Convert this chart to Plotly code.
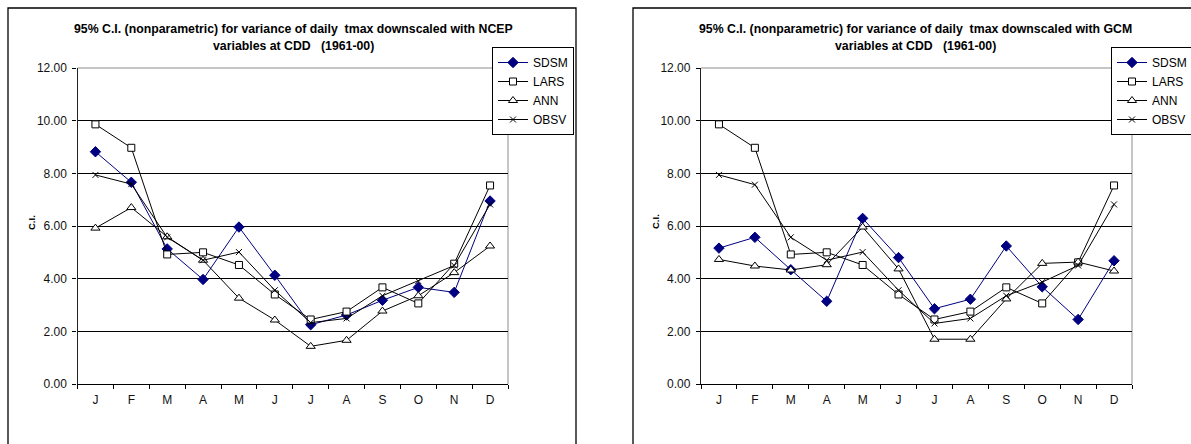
import plotly.graph_objects as go

# ---------------- data ----------------
MONTHS = ["Jan", "Feb", "Mar", "Apr", "May", "Jun", "Jul", "Aug", "Sep", "Oct", "Nov", "Dec"]
MONTH_LABELS = ["J", "F", "M", "A", "M", "J", "J", "A", "S", "O", "N", "D"]
SERIES = ["SDSM", "LARS", "ANN", "OBSV"]
Y_TICKS = [0, 2, 4, 6, 8, 10, 12]

# NCEP (left chart)
ncep_sdsm = [8.82, 7.66, 5.13, 3.97, 5.96, 4.13, 2.25, 2.62, 3.18, 3.67, 3.48, 6.95]
ncep_lars = [9.86, 8.97, 4.92, 5.00, 4.52, 3.40, 2.45, 2.75, 3.67, 3.06, 4.57, 7.54]
ncep_ann = [5.92, 6.70, 5.59, 4.70, 3.26, 2.43, 1.43, 1.66, 2.77, 3.35, 4.23, 5.24]
ncep_obsv = [7.94, 7.59, 5.57, 4.70, 5.01, 3.56, 2.33, 2.49, 3.35, 3.91, 4.50, 6.82]

# GCM (right chart)
gcm_sdsm = [5.16, 5.57, 4.34, 3.14, 6.29, 4.80, 2.86, 3.22, 5.24, 3.69, 2.45, 4.68]
gcm_lars = [9.86, 8.97, 4.92, 5.00, 4.52, 3.40, 2.45, 2.75, 3.67, 3.06, 4.62, 7.54]
gcm_ann = [4.73, 4.48, 4.33, 4.53, 5.96, 4.37, 1.70, 1.70, 3.23, 4.58, 4.63, 4.29]
gcm_obsv = [7.94, 7.57, 5.57, 4.70, 5.01, 3.56, 2.30, 2.49, 3.35, 3.87, 4.50, 6.82]

TITLE_L = ["95% C.I. (nonparametric) for variance of daily  tmax downscaled with NCEP",
           "variables at CDD   (1961-00)"]
TITLE_R = ["95% C.I. (nonparametric) for variance of daily  tmax downscaled with GCM",
           "variables at CDD   (1961-00)"]

# ---------------- styling ----------------
W, H = 1191, 444
FONT = "Arial, 'Liberation Sans', sans-serif"
NAVY = "#000080"
STYLES = {
    "SDSM": dict(line=dict(color=NAVY, width=1),
                 marker=dict(symbol="diamond", size=8, color=NAVY, line=dict(color=NAVY, width=1))),
    "LARS": dict(line=dict(color="black", width=1),
                 marker=dict(symbol="square", size=7, color="white", line=dict(color="black", width=1))),
    "ANN": dict(line=dict(color="black", width=1),
                marker=dict(symbol="triangle-up", size=8, color="white", line=dict(color="black", width=1))),
    "OBSV": dict(line=dict(color="black", width=1),
                 marker=dict(symbol="x-thin-open", size=6, color="black", line=dict(color="black", width=1))),
}


def px(x):
    return x / W


def py(y):
    return 1 - y / H


fig = go.Figure()

left_data = dict(zip(SERIES, [ncep_sdsm, ncep_lars, ncep_ann, ncep_obsv]))
right_data = dict(zip(SERIES, [gcm_sdsm, gcm_lars, gcm_ann, gcm_obsv]))

for name in SERIES:
    fig.add_trace(go.Scatter(x=MONTHS, y=left_data[name], name=name, mode="lines+markers",
                             xaxis="x", yaxis="y", legend="legend", **STYLES[name]))
for name in SERIES:
    fig.add_trace(go.Scatter(x=MONTHS, y=right_data[name], name=name, mode="lines+markers",
                             xaxis="x2", yaxis="y2", legend="legend2", **STYLES[name]))

PLOT_TOP, PLOT_BOT = 68, 384
LEFT_X = (77.5, 508)
RIGHT_X = (701, 1132)

xaxis_common = dict(type="category", categoryorder="array", categoryarray=MONTHS,
                    tickvals=MONTHS, ticktext=MONTH_LABELS, tickson="boundaries",
                    ticks="outside", ticklen=4, tickcolor="black", tickwidth=1,
                    showline=True, linecolor="black", linewidth=1, showgrid=False,
                    range=[-0.5, 11.5], tickfont=dict(family=FONT, size=12, color="#111"),
                    ticklabelstandoff=5, zeroline=False, fixedrange=True)
yaxis_common = dict(range=[0, 12], tickvals=Y_TICKS, tickformat=".2f",
                    ticks="outside", ticklen=4, tickcolor="black", tickwidth=1,
                    showline=True, linecolor="#222", linewidth=1.3,
                    showgrid=True, gridcolor="black", gridwidth=1, zeroline=False,
                    tickfont=dict(family=FONT, size=12, color="#111"),
                    ticklabelstandoff=3, fixedrange=True)

legend_common = dict(bgcolor="white", bordercolor="black", borderwidth=1,
                     font=dict(family=FONT, size=12, color="black"),
                     itemwidth=30, tracegroupgap=0, yanchor="top", itemclick=False)

fig.update_layout(
    width=W, height=H,
    margin=dict(l=0, r=0, t=0, b=0, autoexpand=False),
    paper_bgcolor="white", plot_bgcolor="white",
    showlegend=True,
    xaxis=dict(domain=[px(LEFT_X[0]), px(LEFT_X[1])], anchor="y", **xaxis_common),
    yaxis=dict(domain=[py(PLOT_BOT), py(PLOT_TOP)], anchor="x", **yaxis_common),
    xaxis2=dict(domain=[px(RIGHT_X[0]), px(RIGHT_X[1])], anchor="y2", **xaxis_common),
    yaxis2=dict(domain=[py(PLOT_BOT), py(PLOT_TOP)], anchor="x2", **yaxis_common),
    legend=dict(x=px(574), xanchor="right", y=py(47), **legend_common),
    legend2=dict(x=px(1111), xanchor="left", y=py(47), **legend_common),
)

shapes = []
# chart frames
for x0, x1 in [(8, 576), (633, 1201)]:
    shapes.append(dict(type="rect", xref="paper", yref="paper", x0=px(x0), x1=px(x1),
                       y0=py(452), y1=py(8), line=dict(color="black", width=1.3),
                       fillcolor="rgba(0,0,0,0)", layer="below"))
# plot-area grey border (top and right)
for xr, yr in [("x domain", "y domain"), ("x2 domain", "y2 domain")]:
    shapes.append(dict(type="line", xref=xr, yref=yr, x0=1, x1=1, y0=0, y1=1,
                       line=dict(color="#a8a8a8", width=1.3), layer="below"))
    shapes.append(dict(type="line", xref=xr, yref=yr, x0=0, x1=1, y0=1, y1=1,
                       line=dict(color="#8c8c8c", width=1), layer="below"))
fig.update_layout(shapes=shapes)

annotations = []
for center, lines in [(293, TITLE_L), (915, TITLE_R)]:
    for i, txt in enumerate(lines):
        annotations.append(dict(text=f"<b>{txt}</b>", x=px(center), y=py(29 + 17 * i),
                                xref="paper", yref="paper", xanchor="center", yanchor="middle",
                                showarrow=False, font=dict(family=FONT, size=12.3, color="black")))
for xc in [31, 655]:
    annotations.append(dict(text="<b>C.I.</b>", x=px(xc), y=py((PLOT_TOP + PLOT_BOT) / 2 - 4),
                            xref="paper", yref="paper", xanchor="center", yanchor="middle",
                            textangle=-90, showarrow=False,
                            font=dict(family=FONT, size=9.5, color="black")))
fig.update_layout(annotations=annotations)

fig.write_html("out.html")
